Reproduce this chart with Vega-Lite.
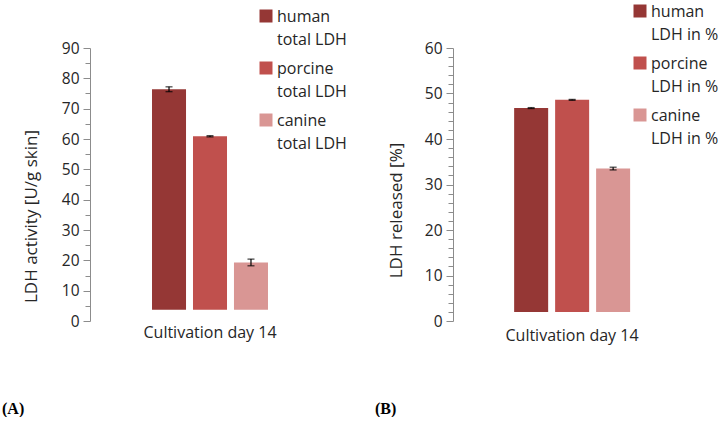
{
  "$schema": "https://vega.github.io/schema/vega-lite/v6.json",
  "background": "white",
  "padding": {"left": 2, "top": 3, "right": 0, "bottom": 0},
  "bounds": "flush",
  "spacing": 123,
  "datasets": {
    "a": [
      {"day": "Cultivation day 14", "species": "human", "label": "human|total LDH", "value": 76.4, "lo": 75.6, "hi": 77.2},
      {"day": "Cultivation day 14", "species": "porcine", "label": "porcine|total LDH", "value": 60.9, "lo": 60.7, "hi": 61.1},
      {"day": "Cultivation day 14", "species": "canine", "label": "canine|total LDH", "value": 19.3, "lo": 18.2, "hi": 20.4}
    ],
    "b": [
      {"day": "Cultivation day 14", "species": "human", "label": "human|LDH in %", "value": 46.8, "lo": 46.7, "hi": 46.9},
      {"day": "Cultivation day 14", "species": "porcine", "label": "porcine|LDH in %", "value": 48.6, "lo": 48.5, "hi": 48.7},
      {"day": "Cultivation day 14", "species": "canine", "label": "canine|LDH in %", "value": 33.5, "lo": 33.2, "hi": 33.8}
    ]
  },
  "hconcat": [
    {
      "width": 240,
      "height": 273,
      "data": {"name": "a"},
      "title": {"text": "(A)", "orient": "bottom", "anchor": "start", "frame": "group", "dx": -88, "offset": 61, "font": "Liberation Serif", "fontSize": 16, "fontWeight": "bold", "color": "#000000"},
      "encoding": {
        "x": {"field": "day", "type": "nominal", "title": null,
          "scale": {"paddingInner": 0, "paddingOuter": 0.476},
          "axis": {"labels": true, "ticks": false, "domain": false, "labelPadding": 3, "labelFontSize": 16, "labelAngle": 0}},
        "xOffset": {"field": "species", "type": "nominal", "sort": ["human", "porcine", "canine"],
          "scale": {"paddingInner": 0.17, "paddingOuter": 0.085}}
      },
      "layer": [
        {
          "mark": {"type": "bar"},
          "encoding": {
            "y": {"field": "value", "type": "quantitative", "title": "LDH activity  [U/g skin]",
              "scale": {"domain": [0, 90], "nice": false},
              "axis": {"values": [0,5,10,15,20,25,30,35,40,45,50,55,60,65,70,75,80,85,90],
                "labelExpr": "datum.value % 10 === 0 ? datum.label : ''",
                "labelOverlap": false, "labelBound": false,
                "tickSize": {"condition": {"test": "datum.value % 10 === 0", "value": 7}, "value": 5},
                "titlePadding": 21, "titleY": 168}},
            "y2": {"datum": 3.7},
            "color": {"field": "label", "type": "nominal", "sort": ["human|total LDH", "porcine|total LDH", "canine|total LDH"],
              "scale": {"range": ["#953735", "#C0504D", "#D99694"]},
              "legend": {"orient": "none", "legendX": 168, "legendY": -40, "labelExpr": "split(datum.label, '|')",
                "encode": {"labels": {"update": {"dy": {"value": -7}, "lineHeight": {"value": 23}}}}}}
          }
        },
        {
          "mark": {"type": "rule", "color": "#000000", "strokeWidth": 1.2},
          "encoding": {
            "y": {"field": "lo", "type": "quantitative", "title": "LDH activity  [U/g skin]",
              "axis": {"values": [0,5,10,15,20,25,30,35,40,45,50,55,60,65,70,75,80,85,90],
                "labelExpr": "datum.value % 10 === 0 ? datum.label : ''",
                "labelOverlap": false, "labelBound": false,
                "tickSize": {"condition": {"test": "datum.value % 10 === 0", "value": 7}, "value": 5},
                "titlePadding": 21, "titleY": 168}},
            "y2": {"field": "hi"}
          }
        },
        {
          "mark": {"type": "tick", "color": "#000000", "size": 7, "thickness": 1.3},
          "encoding": {"y": {"field": "lo", "type": "quantitative", "title": "LDH activity  [U/g skin]",
              "axis": {"values": [0,5,10,15,20,25,30,35,40,45,50,55,60,65,70,75,80,85,90],
                "labelExpr": "datum.value % 10 === 0 ? datum.label : ''",
                "labelOverlap": false, "labelBound": false,
                "tickSize": {"condition": {"test": "datum.value % 10 === 0", "value": 7}, "value": 5},
                "titlePadding": 21, "titleY": 168}}}
        },
        {
          "mark": {"type": "tick", "color": "#000000", "size": 7, "thickness": 1.3},
          "encoding": {"y": {"field": "hi", "type": "quantitative", "title": "LDH activity  [U/g skin]",
              "axis": {"values": [0,5,10,15,20,25,30,35,40,45,50,55,60,65,70,75,80,85,90],
                "labelExpr": "datum.value % 10 === 0 ? datum.label : ''",
                "labelOverlap": false, "labelBound": false,
                "tickSize": {"condition": {"test": "datum.value % 10 === 0", "value": 7}, "value": 5},
                "titlePadding": 21, "titleY": 168}}}
        }
      ]
    },
    {
      "width": 238,
      "height": 273,
      "data": {"name": "b"},
      "title": {"text": "(B)", "orient": "bottom", "anchor": "start", "frame": "group", "dx": -78, "offset": 58, "font": "Liberation Serif", "fontSize": 16, "fontWeight": "bold", "color": "#000000"},
      "encoding": {
        "x": {"field": "day", "type": "nominal", "title": null,
          "scale": {"paddingInner": 0, "paddingOuter": 0.47},
          "axis": {"labels": true, "ticks": false, "domain": false, "labelPadding": 6, "labelFontSize": 16, "labelAngle": 0}},
        "xOffset": {"field": "species", "type": "nominal", "sort": ["human", "porcine", "canine"],
          "scale": {"paddingInner": 0.17, "paddingOuter": 0.085}}
      },
      "layer": [
        {
          "mark": {"type": "bar"},
          "encoding": {
            "y": {"field": "value", "type": "quantitative", "title": "LDH released [%]",
              "scale": {"domain": [0, 60], "nice": false},
              "axis": {"values": [0,2,4,6,8,10,12,14,16,18,20,22,24,26,28,30,32,34,36,38,40,42,44,46,48,50,52,54,56,58,60],
                "labelExpr": "datum.value % 10 === 0 ? datum.label : ''",
                "labelOverlap": false, "labelBound": false,
                "tickSize": {"condition": {"test": "datum.value % 10 === 0", "value": 7}, "value": 5},
                "titlePadding": 19, "titleY": 162}},
            "y2": {"datum": 2},
            "color": {"field": "label", "type": "nominal", "sort": ["human|LDH in %", "porcine|LDH in %", "canine|LDH in %"],
              "scale": {"range": ["#953735", "#C0504D", "#D99694"]},
              "legend": {"orient": "none", "legendX": 179, "legendY": -45, "labelExpr": "split(datum.label, '|')",
                "encode": {"labels": {"update": {"dy": {"value": -7}, "lineHeight": {"value": 23}}}}}}
          }
        },
        {
          "mark": {"type": "rule", "color": "#000000", "strokeWidth": 1.2},
          "encoding": {
            "y": {"field": "lo", "type": "quantitative", "title": "LDH released [%]",
              "axis": {"values": [0,2,4,6,8,10,12,14,16,18,20,22,24,26,28,30,32,34,36,38,40,42,44,46,48,50,52,54,56,58,60],
                "labelExpr": "datum.value % 10 === 0 ? datum.label : ''",
                "labelOverlap": false, "labelBound": false,
                "tickSize": {"condition": {"test": "datum.value % 10 === 0", "value": 7}, "value": 5},
                "titlePadding": 19, "titleY": 162}},
            "y2": {"field": "hi"}
          }
        },
        {
          "mark": {"type": "tick", "color": "#000000", "size": 7, "thickness": 1.3},
          "encoding": {"y": {"field": "lo", "type": "quantitative", "title": "LDH released [%]",
              "axis": {"values": [0,2,4,6,8,10,12,14,16,18,20,22,24,26,28,30,32,34,36,38,40,42,44,46,48,50,52,54,56,58,60],
                "labelExpr": "datum.value % 10 === 0 ? datum.label : ''",
                "labelOverlap": false, "labelBound": false,
                "tickSize": {"condition": {"test": "datum.value % 10 === 0", "value": 7}, "value": 5},
                "titlePadding": 19, "titleY": 162}}}
        },
        {
          "mark": {"type": "tick", "color": "#000000", "size": 7, "thickness": 1.3},
          "encoding": {"y": {"field": "hi", "type": "quantitative", "title": "LDH released [%]",
              "axis": {"values": [0,2,4,6,8,10,12,14,16,18,20,22,24,26,28,30,32,34,36,38,40,42,44,46,48,50,52,54,56,58,60],
                "labelExpr": "datum.value % 10 === 0 ? datum.label : ''",
                "labelOverlap": false, "labelBound": false,
                "tickSize": {"condition": {"test": "datum.value % 10 === 0", "value": 7}, "value": 5},
                "titlePadding": 19, "titleY": 162}}}
        }
      ]
    }
  ],
  "resolve": {"scale": {"color": "independent", "y": "independent"}, "legend": {"color": "independent"}},
  "config": {
    "font": "Open Sans",
    "view": {"stroke": null},
    "axis": {"grid": false, "labelFontSize": 15.5, "labelColor": "#262626", "titleFontSize": 17, "titleFontWeight": "normal", "titleColor": "#262626", "domainColor": "#8c8c8c", "tickColor": "#8c8c8c", "labelPadding": 4},
    "legend": {"title": null, "symbolType": "square", "symbolSize": 169, "symbolStrokeWidth": 0, "symbolOpacity": 1, "labelFontSize": 16, "labelColor": "#262626", "labelLimit": 200, "labelOffset": 3, "rowPadding": 12, "labelBaseline": "top"}
  }
}
